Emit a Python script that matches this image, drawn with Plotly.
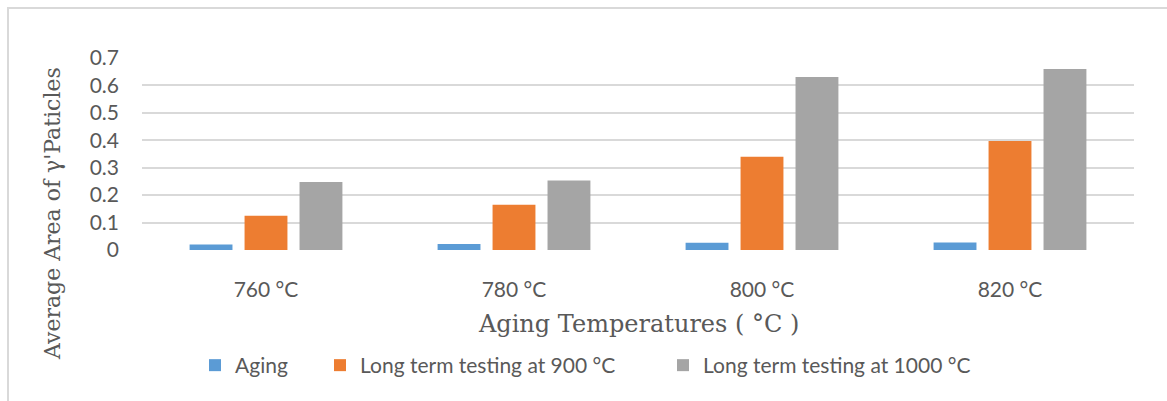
import plotly.graph_objects as go

# Aging temperatures (categories)
temperatures = ["760 °C", "780 °C", "800 °C", "820 °C"]

# Average area of γ' particles per condition
aging = [0.020, 0.022, 0.026, 0.027]
long_term_900 = [0.125, 0.165, 0.340, 0.397]
long_term_1000 = [0.248, 0.253, 0.631, 0.660]

series_names = ["Aging", "Long term testing at 900 °C", "Long term testing at 1000 °C"]
series_colors = ["#5B9BD5", "#ED7D31", "#A5A5A5"]

TEXT = "#595959"
GRID = "#D9D9D9"

# plot-area geometry (pixels) used to place titles, legends and frame
W, H = 1167, 401
L, R, T, B = 142, 33, 58, 151
PW, PH = W - L - R, H - T - B


def px_x(x):
    return (x - L) / PW


def px_y(y):
    return (H - B - y) / PH


fig = go.Figure()
legend_ids = ["legend", "legend2", "legend3"]
for name, vals, color, lg in zip(series_names, [aging, long_term_900, long_term_1000],
                                 series_colors, legend_ids):
    fig.add_trace(go.Bar(
        x=temperatures, y=vals, name=name, legend=lg,
        marker=dict(color=color, line=dict(width=0)),
    ))

legend_font = dict(family="Lato, 'Open Sans', sans-serif", size=21, color=TEXT)
legend_starts = [195, 320, 663]
legend_common = dict(orientation="h", yanchor="middle", y=px_y(365.5), xanchor="left",
                     bgcolor="rgba(0,0,0,0)", borderwidth=0, font=legend_font)

fig.update_layout(
    width=W, height=H,
    margin=dict(l=L, r=R, t=T, b=B, pad=0),
    paper_bgcolor="white", plot_bgcolor="white",
    barmode="group", bargap=0.335, bargroupgap=0.22,
    showlegend=True,
    legend=dict(x=px_x(legend_starts[0]), **legend_common),
    legend2=dict(x=px_x(legend_starts[1]), **legend_common),
    legend3=dict(x=px_x(legend_starts[2]), **legend_common),
    xaxis=dict(
        type="category", showgrid=False, showline=False, zeroline=False, ticks="",
        tickfont=dict(family="Lato, 'Open Sans', sans-serif", size=21, color=TEXT),
        ticklabelstandoff=25,
    ),
    yaxis=dict(
        range=[0, 0.7], dtick=0.1, tick0=0,
        showgrid=True, gridcolor=GRID, gridwidth=2,
        zeroline=False, showline=False, ticks="",
        tickfont=dict(family="Lato, 'Open Sans', sans-serif", size=21, color=TEXT),
        ticklabelstandoff=22,
    ),
    annotations=[
        dict(text="Aging Temperatures ( °C )", xref="paper", yref="paper",
             x=px_x(638), y=px_y(324), xanchor="center", yanchor="middle", showarrow=False,
             font=dict(family="'DejaVu Serif', serif", size=24, color=TEXT)),
        dict(text="Average Area of γ'Paticles", xref="paper", yref="paper",
             x=px_x(52), y=px_y(214), xanchor="center", yanchor="middle", showarrow=False,
             textangle=-90,
             font=dict(family="'DejaVu Serif', serif", size=22, color=TEXT)),
    ],
    shapes=[
        dict(type="rect", xref="paper", yref="paper",
             x0=px_x(8), x1=px_x(1220), y0=px_y(8), y1=px_y(440),
             line=dict(color=GRID, width=2), fillcolor="rgba(0,0,0,0)", layer="below"),
    ],
)

fig.write_html("out.html")
